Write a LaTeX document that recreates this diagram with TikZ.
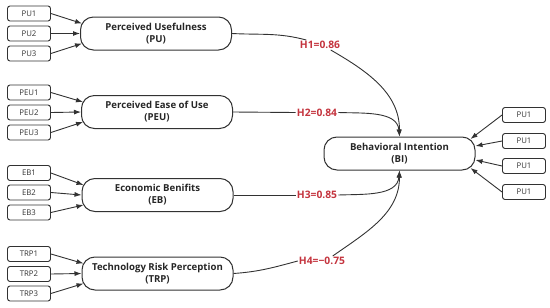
\documentclass[tikz,border=0pt]{standalone}
\usepackage{fontspec}
\setmainfont{Open Sans}
\usetikzlibrary{arrows.meta,calc}
\definecolor{ln}{RGB}{50,50,50}
\definecolor{hred}{RGB}{196,52,62}
\begin{document}
\begin{tikzpicture}[x=1pt,y=1pt,
  item/.style={draw=ln,line width=0.9pt,rounded corners=2.5pt,minimum width=43pt,minimum height=15pt,inner sep=0pt,font=\fontsize{7.8}{8}\selectfont,text=ln},
  construct/.style={draw=ln,line width=1pt,rounded corners=13pt,minimum width=151pt,minimum height=33pt,inner sep=0pt,align=center,font=\bfseries\fontsize{9.6}{12}\selectfont,text=black!85},
  hlab/.style={inner sep=1pt,text=hred,font=\bfseries\fontsize{10.3}{11}\selectfont},
  arr/.style={draw=ln,line width=0.9pt,-{Latex[length=7pt,width=5pt]}},
  conn/.style={draw=ln,line width=0.9pt}]
\useasboundingbox (0,0) rectangle (550,-308);
% constructs
\node[construct] (PU) at (156,-33.5) {Perceived Usefulness\\(PU)};
\node[construct] (PEU) at (157,-112) {Perceived Ease of Use\\(PEU)};
\node[construct] (EB) at (157.5,-195) {Economic Benifits\\(EB)};
\node[construct] (TRP) at (157.5,-273.5) {Technology Risk Perception\\(TRP)};
\node[construct] (BI) at (399.5,-153.5) {Behavioral Intention\\(BI)};
% left items
\node[item] (pu1) at (29,-13.5) {PU1};
\node[item] (pu2) at (29,-33.5) {PU2};
\node[item] (pu3) at (29,-53.5) {PU3};
\node[item] (peu1) at (29,-92.5) {PEU1};
\node[item] (peu2) at (29,-112.5) {PEU2};
\node[item] (peu3) at (29,-132.5) {PEU3};
\node[item] (eb1) at (29,-173) {EB1};
\node[item] (eb2) at (29,-192.5) {EB2};
\node[item] (eb3) at (29,-212.5) {EB3};
\node[item] (trp1) at (29,-254) {TRP1};
\node[item] (trp2) at (29,-274) {TRP2};
\node[item] (trp3) at (29,-293.5) {TRP3};
% right items
\node[item] (bi1) at (524,-115) {PU1};
\node[item] (bi2) at (524,-141) {PU1};
\node[item] (bi3) at (524,-166) {PU1};
\node[item] (bi4) at (524,-192) {PU1};
% item arrows
\foreach \c/\a/\b/\d in {PU/pu1/pu2/pu3, PEU/peu1/peu2/peu3, EB/eb1/eb2/eb3, TRP/trp1/trp2/trp3}{
  \draw[arr] (\a.east) -- ($(\c.west)+(2,10)$);
  \draw[arr] (\b.east) -- (\c.west);
  \draw[arr] (\d.east) -- ($(\c.west)+(2,-10)$);
}
\draw[arr] (bi1.west) -- ($(BI.east)+(-5,14.5)$);
\draw[arr] (bi2.west) -- ($(BI.east)+(0,7.5)$);
\draw[arr] (bi3.west) -- ($(BI.east)+(0,-6.5)$);
\draw[arr] (bi4.west) -- ($(BI.east)+(-5,-14.5)$);
% hypothesis labels
\node[hlab] (h1) at (320,-45) {H1=0.86};
\node[hlab] (h2) at (317,-112.5) {H2=0.84};
\node[hlab] (h3) at (317,-195) {H3=0.85};
\node[hlab] (h4) at (322,-261) {H4=\textminus0.75};
% paths
\draw[conn] (PU.east) to[out=-3,in=165] (h1.160);
\draw[arr] (h1.-25) to[out=-30,in=90] (BI.north);
\draw[conn] (PEU.east) -- (h2.west);
\draw[arr] (h2.east) to[out=-2,in=95] (BI.north);
\draw[conn] (EB.east) -- (h3.west);
\draw[arr] (h3.east) to[out=2,in=-95] (BI.south);
\draw[conn] (TRP.east) to[out=4,in=195] (h4.west);
\draw[arr] (h4.25) to[out=35,in=-90] (BI.south);
\end{tikzpicture}
\end{document}
